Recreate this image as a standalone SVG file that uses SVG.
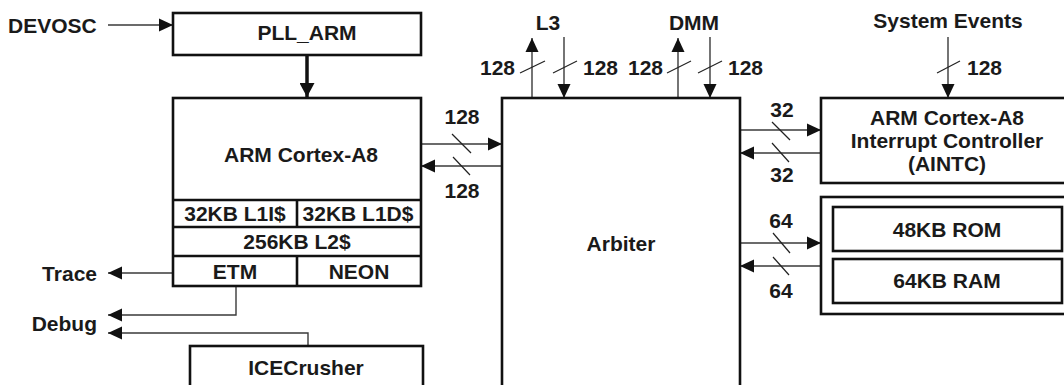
<svg xmlns="http://www.w3.org/2000/svg" width="1064" height="385" viewBox="0 0 1064 385">
<defs>
<style>
text{font-family:"Liberation Sans",Arial,sans-serif;font-weight:bold;font-size:21px;fill:#1a1a1a}
.c{text-anchor:middle}
.e{text-anchor:end}
.box{fill:#fff;stroke:#111;stroke-width:2.6}
.ln{fill:none;stroke:#3a3a3a;stroke-width:1.4}
.sl{fill:none;stroke:#222;stroke-width:1.2}
</style>
<marker id="ah" markerUnits="userSpaceOnUse" markerWidth="15" markerHeight="14" viewBox="0 0 15 14" refX="14" refY="7" orient="auto">
<path d="M0,0.5 L14,7 L0,13.5 Z" fill="#111"/>
</marker>
<marker id="ahb" markerUnits="userSpaceOnUse" markerWidth="15" markerHeight="15" viewBox="0 0 15 15" refX="14" refY="7.5" orient="auto">
<path d="M0,0 L14,7.5 L0,15 Z" fill="#111"/>
</marker>
</defs>

<g id="connectors">
<line class="ln" x1="108" y1="25" x2="173" y2="25" marker-end="url(#ah)"/>
<line x1="307" y1="55" x2="307" y2="97" stroke="#111" stroke-width="3.5" marker-end="url(#ahb)"/>
<line class="ln" x1="173" y1="273" x2="108" y2="273" marker-end="url(#ah)"/>
<polyline class="ln" points="236,286 236,315 108,315" marker-end="url(#ah)"/>
<polyline class="ln" points="308,346 308,333 108,333" marker-end="url(#ah)"/>
<line class="ln" x1="421" y1="144" x2="502" y2="144" marker-end="url(#ah)"/>
<line class="ln" x1="502" y1="166" x2="421" y2="166" marker-end="url(#ah)"/>
<line class="sl" x1="452" y1="134" x2="471" y2="153"/>
<line class="sl" x1="453" y1="157" x2="470" y2="175"/>
<line class="ln" x1="532" y1="98" x2="532" y2="38" marker-end="url(#ah)"/>
<line class="ln" x1="564" y1="37" x2="564" y2="98" marker-end="url(#ah)"/>
<line class="ln" x1="678" y1="98" x2="678" y2="38" marker-end="url(#ah)"/>
<line class="ln" x1="710" y1="37" x2="710" y2="98" marker-end="url(#ah)"/>
<line class="sl" x1="520" y1="73" x2="545" y2="61"/>
<line class="sl" x1="553" y1="73" x2="577" y2="61"/>
<line class="sl" x1="667" y1="73" x2="691" y2="61"/>
<line class="sl" x1="698" y1="73" x2="722" y2="61"/>
<line class="ln" x1="948" y1="37" x2="948" y2="98" marker-end="url(#ah)"/>
<line class="sl" x1="937" y1="73" x2="960" y2="61"/>
<line class="ln" x1="740" y1="130" x2="821" y2="130" marker-end="url(#ah)"/>
<line class="ln" x1="821" y1="153" x2="740" y2="153" marker-end="url(#ah)"/>
<line class="sl" x1="772" y1="122" x2="790" y2="140"/>
<line class="sl" x1="772" y1="143" x2="789" y2="162"/>
<line class="ln" x1="740" y1="243" x2="821" y2="243" marker-end="url(#ah)"/>
<line class="ln" x1="821" y1="266" x2="740" y2="266" marker-end="url(#ah)"/>
<line class="sl" x1="773" y1="233" x2="790" y2="253"/>
<line class="sl" x1="773" y1="257" x2="789" y2="275"/>
</g>

<g id="labels">
<text x="8" y="33">DEVOSC</text>
<text class="e" x="97" y="281">Trace</text>
<text class="e" x="97" y="331">Debug</text>
<text class="c" x="548" y="30">L3</text>
<text class="c" x="694" y="30">DMM</text>
<text class="e" x="515" y="75">128</text>
<text x="583" y="75">128</text>
<text class="e" x="663" y="75">128</text>
<text x="728" y="75">128</text>
<text class="c" x="948" y="28">System Events</text>
<text x="967" y="75">128</text>
<text class="c" x="462" y="124">128</text>
<text class="c" x="462" y="198">128</text>
<text class="c" x="782" y="117">32</text>
<text class="c" x="782" y="182">32</text>
<text class="c" x="781" y="228">64</text>
<text class="c" x="781" y="298">64</text>
</g>

<g id="pll">
<rect class="box" x="173" y="13" width="248" height="42"/>
<text class="c" x="307" y="40">PLL_ARM</text>
</g>

<g id="cortex">
<rect class="box" x="173" y="98" width="248" height="188"/>
<text class="c" x="301" y="162">ARM Cortex-A8</text>
<line class="box" x1="173" y1="200" x2="421" y2="200"/>
<line class="box" x1="173" y1="227" x2="421" y2="227"/>
<line class="box" x1="173" y1="256" x2="421" y2="256"/>
<line class="box" x1="297" y1="200" x2="297" y2="227"/>
<line class="box" x1="297" y1="256" x2="297" y2="286"/>
<text class="c" x="235" y="221">32KB L1I$</text>
<text class="c" x="358" y="221">32KB L1D$</text>
<text class="c" x="297" y="249">256KB L2$</text>
<text class="c" x="235" y="279">ETM</text>
<text class="c" x="359" y="279">NEON</text>
</g>

<g id="icecrusher">
<rect class="box" x="190" y="346" width="233" height="60"/>
<text class="c" x="306" y="375">ICECrusher</text>
</g>

<g id="arbiter">
<rect class="box" x="502" y="98" width="238" height="310"/>
<text class="c" x="621" y="251">Arbiter</text>
</g>

<g id="aintc">
<rect class="box" x="821" y="98" width="260" height="85"/>
<text class="c" x="947" y="125">ARM Cortex-A8</text>
<text class="c" x="947" y="148">Interrupt Controller</text>
<text class="c" x="947" y="171">(AINTC)</text>
</g>

<g id="memory">
<rect class="box" x="821" y="197" width="260" height="117"/>
<rect class="box" x="833" y="207" width="229" height="44"/>
<text class="c" x="947" y="237">48KB ROM</text>
<rect class="box" x="833" y="259" width="229" height="44"/>
<text class="c" x="947" y="288">64KB RAM</text>
</g>
</svg>
